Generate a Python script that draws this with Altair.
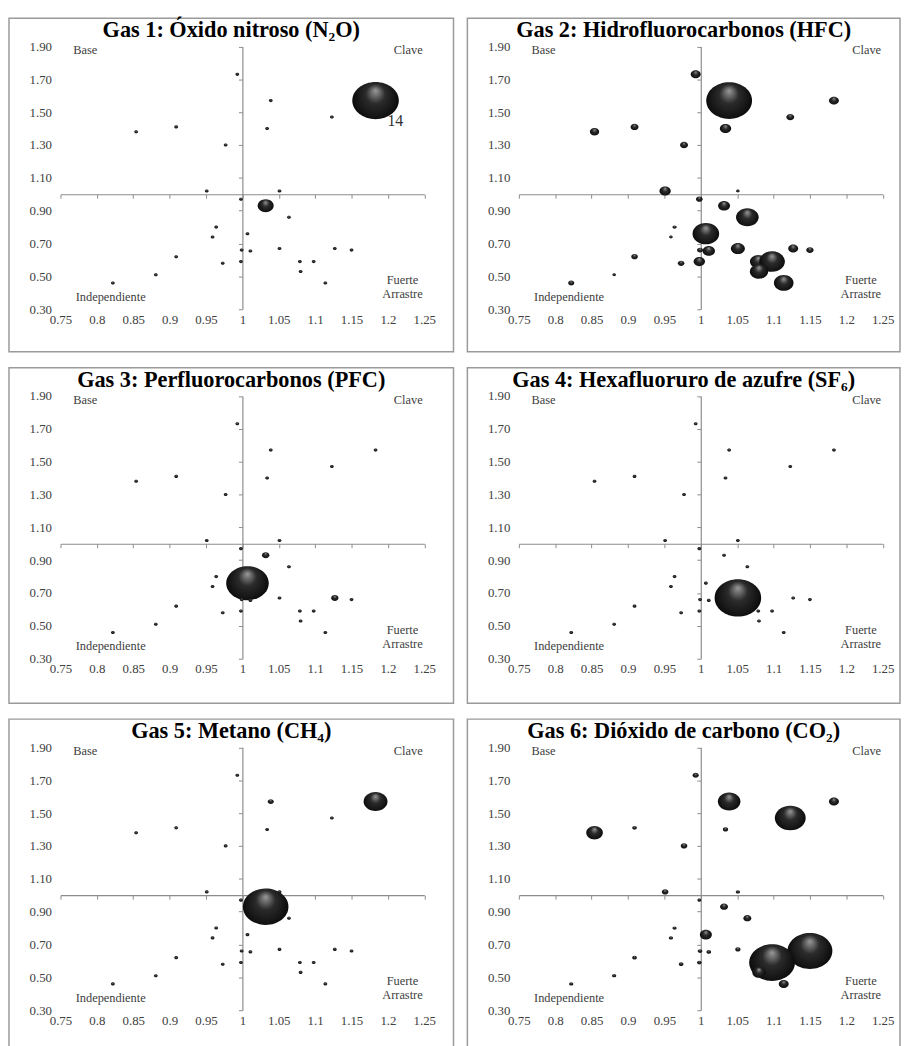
import altair as alt
import pandas as pd

# ---- data -----------------------------------------------------------------
# Sector coordinates (same 30 sectors in every panel)
SECTOR_X = [0.993, 1.039, 1.183, 1.123, 0.854, 0.909, 1.034, 0.977, 0.951, 1.051,
            0.998, 1.032, 1.064, 0.964, 1.007, 0.959, 0.999, 1.011, 1.051, 1.127,
            1.150, 0.909, 0.973, 0.998, 1.079, 1.098, 1.080, 0.881, 0.822, 1.114]
SECTOR_Y = [1.73, 1.57, 1.57, 1.47, 1.38, 1.41, 1.40, 1.30, 1.02, 1.02,
            0.97, 0.93, 0.86, 0.80, 0.76, 0.74, 0.66, 0.655, 0.67, 0.67,
            0.66, 0.62, 0.58, 0.59, 0.59, 0.59, 0.53, 0.51, 0.46, 0.46]

# Bubble sizes (relative emissions, area units) per gas
SIZE_N2O = [0.7, 0.7, 100, 0.7, 0.7, 0.7, 0.7, 0.7, 0.7, 0.7,
            0.7, 11.8, 0.7, 0.7, 0.7, 0.7, 0.7, 0.7, 0.7, 0.7,
            0.7, 0.7, 0.7, 0.7, 0.7, 0.7, 0.7, 0.7, 0.7, 0.7]
SIZE_HFC = [4.6, 97, 4.6, 2.9, 4.0, 2.9, 5.9, 2.9, 5.9, 0.6,
            2.0, 6.6, 23.6, 0.8, 32.7, 0.6, 1.7, 7.0, 9.0, 4.6,
            2.5, 2.0, 2.0, 5.9, 12.8, 30.3, 15.4, 0.6, 1.7, 17.8]
SIZE_PFC = [0.7, 0.7, 0.7, 0.7, 0.7, 0.7, 0.7, 0.7, 0.7, 0.7,
            0.7, 2.5, 0.7, 0.7, 83.6, 0.7, 0.7, 0.7, 0.7, 2.5,
            0.7, 0.7, 0.7, 0.7, 0.7, 0.7, 0.7, 0.7, 0.7, 0.7]
SIZE_SF6 = [0.7, 0.7, 0.7, 0.7, 0.7, 0.7, 0.7, 0.7, 0.7, 0.7,
            0.7, 0.7, 0.7, 0.7, 0.7, 0.7, 0.7, 0.7, 100, 0.7,
            0.7, 0.7, 0.7, 0.7, 0.7, 0.7, 0.7, 0.7, 0.7, 0.7]
SIZE_CH4 = [0.7, 1.7, 26.4, 0.7, 0.7, 0.7, 0.7, 0.7, 0.7, 0.7,
            0.7, 95.8, 0.7, 0.7, 0.7, 0.7, 0.7, 0.7, 0.7, 0.7,
            0.7, 0.7, 0.7, 0.7, 0.7, 0.7, 0.7, 0.7, 0.7, 0.7]
SIZE_CO2 = [1.7, 23.6, 4.6, 44, 12.8, 1.0, 1.3, 2.0, 2.0, 0.8,
            0.7, 2.9, 2.9, 0.8, 6.6, 0.8, 1.0, 1.0, 1.3, 0.8,
            93, 1.0, 1.0, 1.0, 1.0, 97, 8.2, 0.8, 0.8, 4.6]

TITLES = ["Gas 1: Óxido nitroso (N₂O)", "Gas 2: Hidrofluorocarbonos (HFC)",
          "Gas 3: Perfluorocarbonos (PFC)", "Gas 4: Hexafluoruro de azufre  (SF₆)",
          "Gas 5: Metano (CH₄)", "Gas 6: Dióxido de carbono  (CO₂)"]
SIZES = [SIZE_N2O, SIZE_HFC, SIZE_PFC, SIZE_SF6, SIZE_CH4, SIZE_CO2]

# data label shown only in panel 1 (on sector 3)
LABEL_N2O = ["", "", "14", "", "", "", "", "", "", "",
             "", "", "", "", "", "", "", "", "", "",
             "", "", "", "", "", "", "", "", "", ""]

QUAD_TEXT = ["Base", "Clave", "Independiente", "Fuerte\nArrastre"]
QUAD_X = [0.784, 1.228, 0.819, 1.220]
QUAD_Y = [1.875, 1.875, 0.377, 0.475]

X_TICKS = [0.75, 0.8, 0.85, 0.9, 0.95, 1.0, 1.05, 1.1, 1.15, 1.2, 1.25]
Y_TICKS = [0.3, 0.5, 0.7, 0.9, 1.1, 1.3, 1.5, 1.7, 1.9]

# ---- layout / style ---------------------------------------------------------
SERIF = "Liberation Serif"
XL, XR = 52, 419.5       # pixel range of x domain inside each box
YB, YT = 294, 28.5       # pixel range of y domain inside each box
WIDTHS = [449, 437]
HEIGHTS = [337, 339, 337]
MAX_SIZE = 2209          # symbol size for value 100 (width = sqrt(size))

ELLIPSE = ("M 1 0 C 1 0.4418 0.5523 0.8 0 0.8 C -0.5523 0.8 -1 0.4418 -1 0 "
           "C -1 -0.4418 -0.5523 -0.8 0 -0.8 C 0.5523 -0.8 1 -0.4418 1 0 Z")

BUBBLE_FILL = alt.RadialGradient(
    gradient="radial",
    stops=[alt.GradientStop(color="#9a9a9a", offset=0),
           alt.GradientStop(color="#2b2b2b", offset=0.35),
           alt.GradientStop(color="#000000", offset=1)],
    x1=0.5, y1=0.28, r1=0, x2=0.5, y2=0.5, r2=0.6)

AX_COLOR = "#8c8c8c"


def panel(i, w, h):
    df = pd.DataFrame({"x": SECTOR_X, "y": SECTOR_Y, "v": SIZES[i],
                       "lab": LABEL_N2O if i == 0 else [""] * len(SECTOR_X)})
    qdf = pd.DataFrame({"qx": QUAD_X, "qy": QUAD_Y, "qt": QUAD_TEXT})

    xs = alt.Scale(domain=[0.75, 1.25], range=[XL, XR], nice=False, zero=False)
    ys = alt.Scale(domain=[0.3, 1.9], range=[YB, YT], nice=False, zero=False)

    x_cross_px = XL + (1.0 - 0.75) / 0.5 * (XR - XL)
    y_cross_px = YB - (1.0 - 0.3) / 1.6 * (YB - YT)

    x_lab_axis = alt.Axis(orient="bottom", offset=-(h - YB), domain=False, ticks=False,
                          labelPadding=4, values=X_TICKS, labelFlush=False,
                          labelOverlap=False, labelExpr="format(datum.value, '~g')",
                          title=None, grid=False)
    y_lab_axis = alt.Axis(orient="left", offset=-XL, domain=False, ticks=False,
                          labelPadding=9, values=Y_TICKS, format=".2f",
                          labelOverlap=False, labelFlush=False, title=None, grid=False)
    x_cross_axis = alt.Axis(orient="bottom", offset=-(h - y_cross_px), labels=False,
                            ticks=True, tickSize=4, domain=True, values=X_TICKS,
                            title=None, grid=False)
    y_cross_axis = alt.Axis(orient="left", offset=-x_cross_px, labels=False,
                            ticks=True, tickSize=4, domain=True, values=Y_TICKS,
                            title=None, grid=False)

    pts = alt.Chart(df).mark_point(
        shape=ELLIPSE, filled=True, fill=BUBBLE_FILL, opacity=1, strokeWidth=0
    ).encode(
        x=alt.X("x:Q", scale=xs, axis=x_lab_axis),
        y=alt.Y("y:Q", scale=ys, axis=y_lab_axis),
        size=alt.Size("v:Q", scale=alt.Scale(domain=[0, 100], range=[0, MAX_SIZE],
                                             zero=True), legend=None),
    )

    quad = alt.Chart(qdf).mark_text(
        font=SERIF, fontSize=12.5, color="#404040", align="center", baseline="middle",
        lineBreak="\n", lineHeight=14
    ).encode(
        x=alt.X("qx:Q", scale=xs, axis=x_cross_axis),
        y=alt.Y("qy:Q", scale=ys, axis=y_cross_axis),
        text="qt:N",
    )

    lab = alt.Chart(df).transform_filter("datum.lab != ''").mark_text(
        font=SERIF, fontSize=16, color="#303030", align="center", baseline="middle",
        dx=20, dy=21
    ).encode(
        x=alt.X("x:Q", scale=xs, axis=None),
        y=alt.Y("y:Q", scale=ys, axis=None),
        text="lab:N",
    )

    return alt.layer(quad, pts, lab).resolve_axis(
        x="independent", y="independent"
    ).properties(
        width=w, height=h,
        title=alt.TitleParams(text=TITLES[i], offset=-24, fontSize=22.5, font=SERIF,
                              fontWeight="bold", anchor="middle", color="black"),
    )


rows = []
for r in range(3):
    rows.append(alt.hconcat(panel(2 * r, WIDTHS[0], HEIGHTS[r]),
                            panel(2 * r + 1, WIDTHS[1], HEIGHTS[r]), spacing=12))

chart = alt.vconcat(*rows, spacing=14).properties(
    padding={"left": 0, "top": 4, "right": 0, "bottom": 0}
).configure_view(
    stroke="#9a9a9a", strokeWidth=1.5
).configure_axis(
    labelFont=SERIF, labelFontSize=13, labelColor="#404040",
    domainColor=AX_COLOR, tickColor=AX_COLOR, domainWidth=1.2, tickWidth=1
).configure_concat(spacing=12)

chart.save("out.html", embed_options={"renderer": "svg", "actions": False})
